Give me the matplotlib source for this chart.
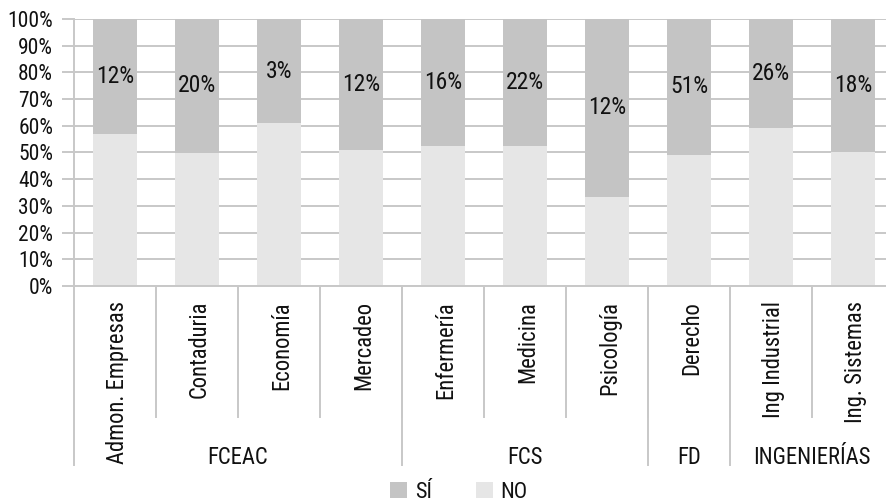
import matplotlib
matplotlib.use("Agg")
import matplotlib.pyplot as plt
from matplotlib.transforms import blended_transform_factory

plt.rcParams['font.family'] = ['Roboto Condensed', 'Liberation Sans', 'DejaVu Sans']

categories = ["Admon. Empresas", "Contaduria", "Economía", "Mercadeo",
              "Enfermería", "Medicina", "Psicología", "Derecho",
              "Ing Industrial", "Ing. Sistemas"]
groups = ["FCEAC", "FCS", "FD", "INGENIERÍAS"]
group_sizes = [4, 3, 1, 2]
no_values = [57, 50, 61, 51, 52.5, 52.5, 33.5, 49.2, 59, 50.2]
si_values = [100 - v for v in no_values]
si_labels = ["12%", "20%", "3%", "12%", "16%", "22%", "12%", "51%", "26%", "18%"]

W, H = 887, 503
fig = plt.figure(figsize=(W / 100, H / 100), dpi=100)
ax = fig.add_axes([74 / W, (H - 286) / H, 820 / W, 267 / H])

grid_c = "#c8c8c8"
txt_c = "#111111"
x = list(range(len(categories)))
ax.bar(x, no_values, width=0.53, color="#e6e6e6", label="NO", zorder=2)
ax.bar(x, si_values, bottom=no_values, width=0.53, color="#c4c4c4", label="SÍ", zorder=2)

for i in x:
    ax.text(i, no_values[i] + si_values[i] / 2, si_labels[i], ha="center", va="center",
            fontsize=17, color=txt_c, zorder=3)

ax.set_xlim(-0.5, len(categories) - 0.5)
ax.set_ylim(0, 100)
ax.set_yticks(range(0, 101, 10))
ax.set_yticklabels([f"{v}%" for v in range(0, 101, 10)], fontsize=15.5, color=txt_c)
ax.yaxis.grid(True, color=grid_c, linewidth=1.4, zorder=0)
ax.set_axisbelow(True)
ax.tick_params(axis="y", length=9, width=1.4, color=grid_c, pad=6)
ax.set_xticks([])
for s in ["top", "right"]:
    ax.spines[s].set_visible(False)
for s in ["left", "bottom"]:
    ax.spines[s].set_color(grid_c)
    ax.spines[s].set_linewidth(1.4)

trans = blended_transform_factory(ax.transData, ax.transAxes)
ax_h = 267
def dy(px):
    return -px / ax_h

# category separators
for b in range(1, len(categories)):
    ax.plot([b - 0.5, b - 0.5], [0, dy(131)], transform=trans, color=grid_c,
            linewidth=1.4, clip_on=False)
# group separators
bounds = [0]
for g in group_sizes:
    bounds.append(bounds[-1] + g)
for b in bounds:
    ax.plot([b - 0.5, b - 0.5], [0, dy(179)], transform=trans, color=grid_c,
            linewidth=1.4, clip_on=False)

# category labels
for i, c in enumerate(categories):
    ax.text(i + 0.03, dy(15), c, rotation=90, ha="center", va="top", fontsize=16.3,
            color=txt_c, transform=trans, clip_on=False)
# group labels
for gi, g in enumerate(groups):
    center = (bounds[gi] + bounds[gi + 1]) / 2 - 0.5
    ax.text(center, dy(172), g, ha="center", va="center", fontsize=16.3,
            color=txt_c, transform=trans, clip_on=False)

handles, labels = ax.get_legend_handles_labels()
fig.legend(handles[::-1], labels[::-1], loc="center", bbox_to_anchor=(459 / W, 1 - 492 / H),
           ncol=2, frameon=False, fontsize=16, handlelength=0.75, handleheight=0.75,
           handletextpad=0.35, columnspacing=2.0, labelcolor=txt_c)

fig.savefig("out.png", dpi=100)
